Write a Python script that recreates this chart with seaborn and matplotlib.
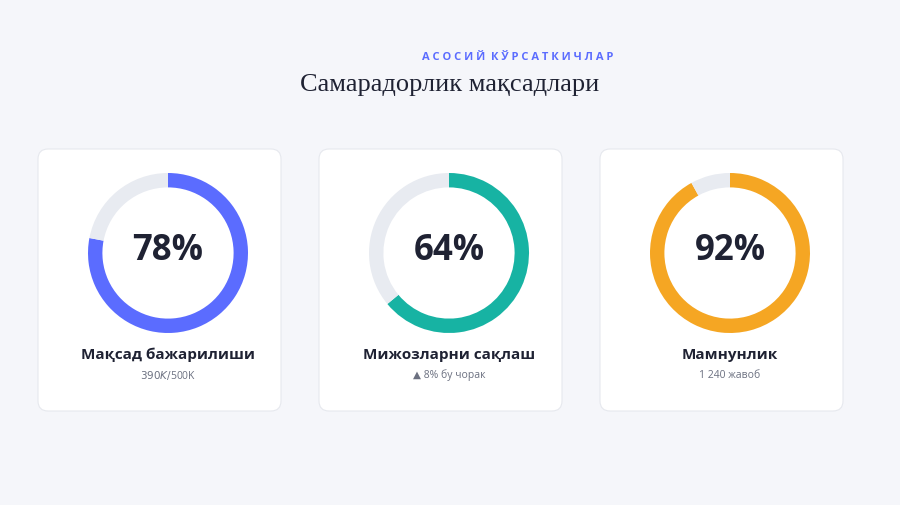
import matplotlib.pyplot as plt
import seaborn as sns
from matplotlib.patches import FancyBboxPatch

sns.set_theme(style="white")
plt.rcParams['font.family'] = ['Open Sans', 'DejaVu Sans']

# data
percents = [78, 64, 92]
labels = ["Мақсад бажарилиши", "Мижозларни сақлаш", "Мамнунлик"]
subtexts = ["$390K / $500K", "▲ 8% бу чорак", "1 240 жавоб"]
colors = ["#5b6cff", "#17b3a3", "#f5a623"]
track = "#e8ebf1"

W, H = 900, 506
fig = plt.figure(figsize=(9, 5.06), dpi=100)
fig.patch.set_facecolor("#f5f6fa")
bg = fig.add_axes([0, 0, 1, 1])
bg.set_xlim(0, W)
bg.set_ylim(H, 0)
bg.axis("off")

bg.text(518, 57, "А С О С И Й   К Ў Р С А Т К И Ч Л А Р".replace("   ", "  "), ha="center", va="center",
        fontsize=8, fontweight="bold", color="#5b6cff")
bg.text(450, 85, "Самарадорлик мақсадлари", ha="center", va="center",
        fontsize=19, color="#1f2233", family=["Liberation Serif", "DejaVu Serif"])

card_x = [38, 319, 600]
for i, pct in enumerate(percents):
    x0 = card_x[i]
    bg.add_patch(FancyBboxPatch((x0, 150), 243, 262, boxstyle="round,pad=0,rounding_size=10",
                                facecolor="white", edgecolor="#e6e8ee", linewidth=0.8))
    cx, cy, r = x0 + 130, 254, 80
    ax = fig.add_axes([(cx - r) / W, (H - cy - r) / H, 2 * r / W, 2 * r / H])
    ax.pie([pct, 100 - pct], colors=[colors[i], track], startangle=90, counterclock=False,
           wedgeprops=dict(width=0.18, linewidth=0))
    ax.set_xlim(-1, 1)
    ax.set_ylim(-1, 1)
    ax.text(0, 0.04, f"{pct}%", ha="center", va="center", fontsize=25,
            fontweight="bold", color="#1f2233")
    bg.text(cx, 355, labels[i], ha="center", va="center", fontsize=11,
            fontweight="bold", color="#1f2233")
    bg.text(cx, 375, subtexts[i], ha="center", va="center", fontsize=7.5, color="#6b7080")

fig.savefig("out.png", dpi=100, facecolor=fig.get_facecolor())
